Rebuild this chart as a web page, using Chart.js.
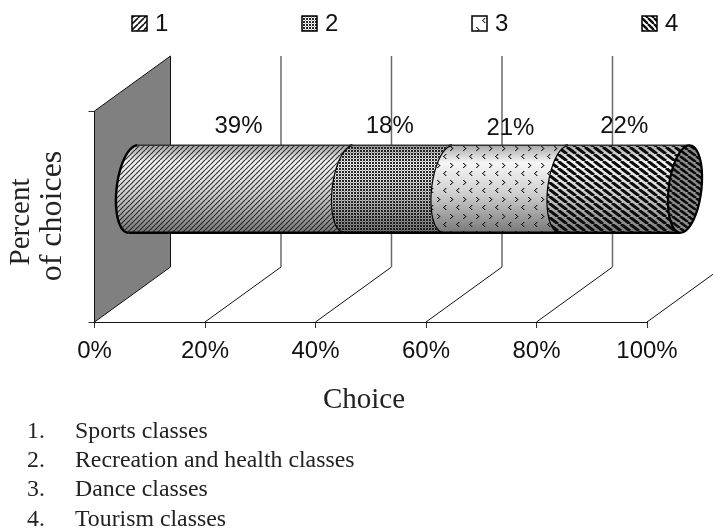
<!DOCTYPE html>
<html>
<head>
    <script src="https://cdn.jsdelivr.net/npm/chart.js@4"></script>
    <style>
        body {
            margin: 0;
            background: #fff;
            width: 713px;
            height: 529px;
            position: relative;
            overflow: hidden;
        }

        #chartBox {
            position: absolute;
            left: 0;
            top: 0;
            width: 713px;
            height: 421px;
        }

        #choiceList {
            position: absolute;
            left: 0;
            top: 416px;
            font-family: "Liberation Serif", serif;
            font-size: 23.8px;
            line-height: 29.2px;
            color: #222;
        }

        #choiceList div {
            white-space: nowrap;
            padding-left: 75px;
            position: relative;
        }

        #choiceList span {
            position: absolute;
            left: 27px;
        }
    </style>
</head>
<body>
<div id="chartBox"><canvas id="myChart"></canvas></div>
<div id="choiceList"></div>

<script>
    const categories = ['Percent of choices'];
    const seriesLabels = ['1', '2', '3', '4'];
    const seriesValues = [39, 18, 21, 22];
    const tickValues = [0, 20, 40, 60, 80, 100];
    const choiceNames = ['Sports classes', 'Recreation and health classes', 'Dance classes', 'Tourism classes'];

    // depth of the fake 3D floor
    const depthX = 76;
    const depthY = -55;
    const radiusX = 16.5;
    const skew = 4.5;

    // hand placement of the data labels, relative to the middle of each segment
    const labelShiftX = [-2, -8, 5, 0];
    const labelY = [126, 126, 128, 126];

    const legendLeft = 132;
    const legendStep = 170;

    function makeTile(w, h, bg, draw) {
        const c = document.createElement('canvas');
        c.width = w;
        c.height = h;
        const t = c.getContext('2d');
        if (bg) {
            t.fillStyle = bg;
            t.fillRect(0, 0, w, h);
        }
        draw(t);
        return t.createPattern(c, 'repeat');
    }

    function hatch(w, h, rising, width, color, bg) {
        return makeTile(w, h, bg, t => {
            t.strokeStyle = color;
            t.lineWidth = width;
            for (let i = -1; i <= 1; i++) {
                t.beginPath();
                if (rising) {
                    t.moveTo(i * w, h);
                    t.lineTo(i * w + w, 0);
                } else {
                    t.moveTo(i * w, 0);
                    t.lineTo(i * w + w, h);
                }
                t.stroke();
            }
        });
    }

    function dots(bg) {
        return makeTile(3, 3, bg, t => {
            t.fillStyle = 'rgba(15,15,15,0.9)';
            t.fillRect(0, 0, 2, 2);
            t.fillStyle = 'rgba(15,15,15,0.35)';
            t.fillRect(2, 2, 1, 1);
        });
    }

    function chevrons(bg) {
        return makeTile(13, 17, bg, t => {
            t.fillStyle = 'rgba(20,20,20,0.9)';
            [[3, 1], [2, 2], [1, 3], [2, 4], [3, 5], [8, 10], [9, 11], [10, 12], [9, 13], [8, 14]]
                .forEach(p => t.fillRect(p[0], p[1], 1.4, 1));
        });
    }

    const stripeColor = '#0c0c0c';
    const fills = [
        hatch(5, 5, true, 1.2, 'rgba(25,25,25,0.85)'),
        dots(),
        chevrons(),
        hatch(9, 7, false, 3, stripeColor)
    ];
    const legendFills = [
        hatch(6, 6, true, 1.6, '#111', '#fff'),
        dots('#fff'),
        chevrons('#fff'),
        hatch(6, 6, false, 2.4, stripeColor, '#fff')
    ];
    const capFill = hatch(8, 6, false, 2.6, stripeColor, '#8c8c8c');

    // one point of the tilted end ellipse, t in radians
    function ringPoint(cx, cy, ry, t) {
        return [cx + radiusX * Math.cos(t) - skew * Math.sin(t), cy + ry * Math.sin(t)];
    }

    function traceArc(ctx, cx, cy, ry, from, to, start) {
        for (let i = 0; i <= 40; i++) {
            const p = ringPoint(cx, cy, ry, from + (to - from) * i / 40);
            if (i === 0 && start) {
                ctx.moveTo(p[0], p[1]);
            } else {
                ctx.lineTo(p[0], p[1]);
            }
        }
    }

    const depthPlugin = {
        id: 'depthFloor',
        beforeDatasetsDraw(chart) {
            const ctx = chart.ctx;
            const x = chart.scales.x;
            const area = chart.chartArea;
            ctx.save();
            // side wall
            ctx.beginPath();
            ctx.moveTo(area.left, area.top);
            ctx.lineTo(area.left + depthX, area.top + depthY);
            ctx.lineTo(area.left + depthX, area.bottom + depthY);
            ctx.lineTo(area.left, area.bottom);
            ctx.closePath();
            ctx.fillStyle = '#808080';
            ctx.fill();
            ctx.strokeStyle = '#111';
            ctx.lineWidth = 1;
            ctx.stroke();
            // grid lines run up the floor, then up the back
            tickValues.slice(1).forEach(v => {
                const px = x.getPixelForValue(v);
                ctx.beginPath();
                ctx.moveTo(px, area.bottom);
                ctx.lineTo(px + depthX, area.bottom + depthY);
                ctx.strokeStyle = '#111';
                ctx.lineWidth = 1;
                ctx.stroke();
                ctx.beginPath();
                ctx.moveTo(px + depthX, area.bottom + depthY);
                ctx.lineTo(px + depthX, area.top + depthY);
                ctx.strokeStyle = '#6a6a6a';
                ctx.lineWidth = 1.5;
                ctx.stroke();
            });
            ctx.restore();
        },
        beforeDatasetDraw(chart, args) {
            const ctx = chart.ctx;
            const bar = args.meta.data[0].getProps(['x', 'base', 'y', 'height'], true);
            const cy = bar.y + depthY / 2;
            const ry = bar.height / 2;
            const x0 = bar.base + depthX / 2;
            const x1 = bar.x + depthX / 2;
            const shade = ctx.createLinearGradient(0, cy - ry, 0, cy + ry);
            shade.addColorStop(0, '#a8a8a8');
            shade.addColorStop(0.2, '#f6f6f6');
            shade.addColorStop(0.55, '#d0d0d0');
            shade.addColorStop(1, '#787878');

            ctx.save();
            ctx.beginPath();
            traceArc(ctx, x0, cy, ry, -Math.PI / 2, -Math.PI * 1.5, true);
            traceArc(ctx, x1, cy, ry, -Math.PI * 1.5, -Math.PI / 2, false);
            ctx.closePath();
            ctx.fillStyle = shade;
            ctx.fill();
            ctx.fillStyle = chart.data.datasets[args.index].backgroundColor;
            ctx.fill();

            ctx.lineWidth = 2.4;
            ctx.strokeStyle = '#000';
            ctx.beginPath();
            traceArc(ctx, x0, cy, ry, -Math.PI / 2, -Math.PI * 1.5, true);
            ctx.stroke();
            ctx.beginPath();
            ctx.moveTo(x0 - skew, cy + ry);
            ctx.lineTo(x1 - skew, cy + ry);
            ctx.stroke();
            ctx.lineWidth = 1.4;
            ctx.strokeStyle = '#333';
            ctx.beginPath();
            ctx.moveTo(x0 + skew, cy - ry);
            ctx.lineTo(x1 + skew, cy - ry);
            ctx.stroke();

            // the open end of the tube
            if (args.index === seriesValues.length - 1) {
                ctx.beginPath();
                traceArc(ctx, x1, cy, ry, 0, Math.PI * 2, true);
                ctx.closePath();
                ctx.fillStyle = capFill;
                ctx.fill();
                ctx.lineWidth = 2.2;
                ctx.strokeStyle = '#000';
                ctx.stroke();
            }
            ctx.restore();
            return false;
        },
        afterDraw(chart) {
            const ctx = chart.ctx;
            ctx.save();
            ctx.fillStyle = '#111';
            ctx.textAlign = 'center';
            ctx.textBaseline = 'middle';

            // data labels
            ctx.font = '24px "Liberation Sans", Arial, sans-serif';
            seriesValues.forEach((v, i) => {
                const bar = chart.getDatasetMeta(i).data[0].getProps(['x', 'base'], true);
                ctx.fillText(v + '%', (bar.x + bar.base + depthX) / 2 + labelShiftX[i], labelY[i]);
            });

            // legend row
            ctx.textAlign = 'left';
            seriesLabels.forEach((label, i) => {
                const left = legendLeft + legendStep * i;
                ctx.fillStyle = legendFills[i];
                ctx.fillRect(left, 16, 15, 15);
                ctx.strokeStyle = '#000';
                ctx.lineWidth = 1.5;
                ctx.strokeRect(left, 16, 15, 15);
                ctx.fillStyle = '#111';
                ctx.fillText(label, left + 23, 24);
            });

            // axis titles
            ctx.fillStyle = '#222';
            ctx.textAlign = 'center';
            ctx.font = '29px "Liberation Serif", serif';
            ctx.fillText('Choice', 364, 400);
            ctx.translate(21, 222);
            ctx.rotate(-Math.PI / 2);
            ctx.fillText('Percent', 0, 0);
            ctx.font = '32px "Liberation Serif", serif';
            ctx.fillText('of choices', 6, 32);
            ctx.restore();
        }
    };

    function initializeChart() {
        const ctx = document.getElementById('myChart').getContext('2d');
        return new Chart(ctx, {
            type: 'bar',
            data: {
                labels: categories,
                datasets: seriesValues.map((v, i) => ({
                    label: seriesLabels[i],
                    data: [v],
                    backgroundColor: fills[i],
                    barThickness: 87.5
                }))
            },
            options: {
                indexAxis: 'y',
                responsive: true,
                maintainAspectRatio: false,
                animation: false,
                layout: {padding: {top: 111, right: 66, left: 0, bottom: 0}},
                plugins: {
                    legend: {display: false},
                    title: {display: false},
                    tooltip: {enabled: false}
                },
                scales: {
                    x: {
                        stacked: true,
                        min: 0,
                        max: 100,
                        afterFit: scale => { scale.height = 99; },
                        grid: {drawOnChartArea: false, tickLength: 6, color: '#333'},
                        border: {color: '#111', width: 1},
                        ticks: {
                            stepSize: 20,
                            autoSkip: false,
                            maxRotation: 0,
                            padding: 9,
                            color: '#111',
                            font: {family: '"Liberation Sans", Arial, sans-serif', size: 24},
                            callback: value => value + '%'
                        }
                    },
                    y: {
                        stacked: true,
                        offset: true,
                        afterFit: scale => { scale.width = 94.5; },
                        grid: {drawOnChartArea: false, offset: true, tickLength: 6, color: '#333'},
                        border: {color: '#111', width: 1},
                        ticks: {display: false}
                    }
                }
            },
            plugins: [depthPlugin]
        });
    }

    document.getElementById('choiceList').innerHTML = choiceNames
        .map((name, i) => `<div><span>${i + 1}.</span>${name}</div>`)
        .join('');

    initializeChart();
</script>
</body>
</html>
